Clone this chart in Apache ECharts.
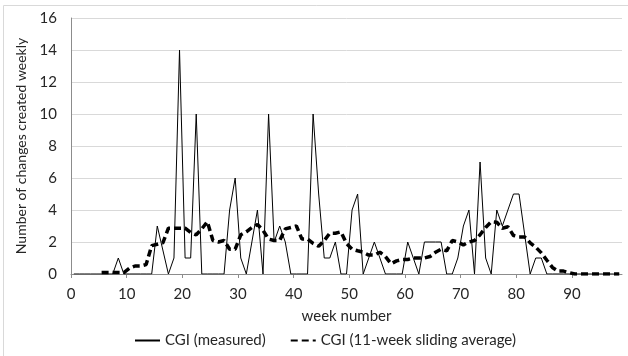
<!DOCTYPE html>
<html>
<head>
<meta charset="utf-8">
<script src="https://cdn.jsdelivr.net/npm/echarts@6/dist/echarts.min.js"></script>
<style>
  html, body { margin: 0; padding: 0; background: #fff; }
  #main { width: 628px; height: 356px; }
</style>
</head>
<body>
<div id="main"></div>
<script>
// weeks 1..99, one category per week
var weeks = Array.from({ length: 99 }, function (_, i) { return String(i + 1); });
var xTickLabels = [0, 10, 20, 30, 40, 50, 60, 70, 80, 90];

// CGI (measured) - changes created per week
var measured = [
  0, 0, 0, 0, 0, 0, 0, 0, 1, 0,
  0, 0, 0, 0, 0, 3, 1.5, 0, 1, 14,
  1, 1, 10, 0, 0, 0, 0, 0, 4, 6,
  1, 0, 2, 4, 0, 10, 2, 3, 2, 0,
  0, 0, 0, 10, 5, 1, 1, 2, 0, 0,
  4, 5, 0, 1, 2, 1, 0, 0, 0, 0,
  2, 1, 0, 2, 2, 2, 2, 0, 0, 1,
  3, 4, 0, 7, 1, 0, 4, 3, 4, 5,
  5, 2.5, 0, 1, 1, 0, 0, 0, 0, 0,
  0, 0, 0, 0, 0, 0, 0, 0, 0
];

// CGI (11-week sliding average)
var average = [
  null, null, null, null, null, 0.09, 0.09, 0.09, 0.09, 0.09,
  0.36, 0.5, 0.5, 0.59, 1.77, 1.86, 1.95, 2.86, 2.86, 2.86,
  2.86, 2.59, 2.45, 2.82, 3.27, 2.09, 2.0, 2.09, 1.55, 1.55,
  2.45, 2.64, 2.91, 3.09, 2.73, 2.18, 2.09, 2.09, 2.82, 2.91,
  3.0, 2.18, 2.18, 1.91, 1.73, 2.09, 2.55, 2.55, 2.64, 1.91,
  1.55, 1.45, 1.36, 1.18, 1.18, 1.36, 1.09, 0.64, 0.82, 0.91,
  0.91, 1.0, 1.0, 1.0, 1.09, 1.36, 1.55, 1.45, 2.09, 2.0,
  1.82, 2.0, 2.09, 2.45, 2.91, 3.27, 3.23, 2.86, 2.95, 2.41,
  2.32, 2.32, 1.95, 1.68, 1.32, 0.86, 0.41, 0.18, 0.18, 0.09,
  0, 0, 0, 0, 0, 0, 0, 0, 0
];

var font = 'Lato';
var txt = '#262626';

var myChart = echarts.init(document.getElementById('main'));
var option = {
  animation: false,
  textStyle: { fontFamily: font },
  graphic: [{
    type: 'rect',
    shape: { x: 3.5, y: 5.5, width: 640, height: 360 },
    style: { fill: 'none', stroke: '#d9d9d9', lineWidth: 1 },
    silent: true
  }],
  grid: { left: 71, right: 6, top: 18, bottom: 82 },
  legend: {
    bottom: 3,
    left: 129,
    itemGap: 24,
    itemHeight: 10,
    itemStyle: { opacity: 0 },
    textStyle: { fontFamily: font, fontSize: 15, color: txt },
    data: [
      { name: 'CGI (measured)', itemWidth: 20 },
      { name: 'CGI (11-week sliding average)', itemWidth: 24 }
    ]
  },
  xAxis: [
    {
      // one slot per week, used for plotting
      type: 'category',
      data: weeks,
      boundaryGap: true,
      show: false
    },
    {
      // visible week-number scale
      type: 'value',
      min: 0,
      max: 99,
      interval: 10,
      position: 'bottom',
      name: 'week number',
      nameLocation: 'middle',
      nameGap: 35,
      nameTextStyle: { fontFamily: font, fontSize: 15, color: txt },
      axisLine: { show: true, lineStyle: { color: '#8c8c8c', width: 1 } },
      axisTick: { show: true, length: 4, lineStyle: { color: '#8c8c8c' }, customValues: xTickLabels },
      axisLabel: { fontFamily: font, fontSize: 15, color: txt, margin: 13, customValues: xTickLabels },
      splitLine: { show: false }
    }
  ],
  yAxis: {
    type: 'value',
    min: 0,
    max: 16,
    interval: 2,
    name: 'Number of changes created weekly',
    nameLocation: 'middle',
    nameGap: 34,
    nameTextStyle: { fontFamily: font, fontSize: 14, color: txt },
    axisLine: { show: true, lineStyle: { color: '#8c8c8c', width: 1 } },
    axisTick: { show: false },
    axisLabel: { fontFamily: font, fontSize: 15, color: txt, margin: 14 },
    splitLine: { lineStyle: { color: '#d9d9d9', width: 1 } }
  },
  series: [
    {
      name: 'CGI (measured)',
      type: 'line',
      xAxisIndex: 0,
      data: measured,
      symbol: 'none',
      lineStyle: { color: '#000', width: 1 },
      itemStyle: { color: '#000' },
      z: 3
    },
    {
      name: 'CGI (11-week sliding average)',
      type: 'line',
      xAxisIndex: 0,
      data: average,
      symbol: 'none',
      lineStyle: { color: '#000', width: 3.5, type: [7, 4] },
      itemStyle: { color: '#000' },
      z: 4
    }
  ]
};
myChart.setOption(option);
</script>
</body>
</html>
